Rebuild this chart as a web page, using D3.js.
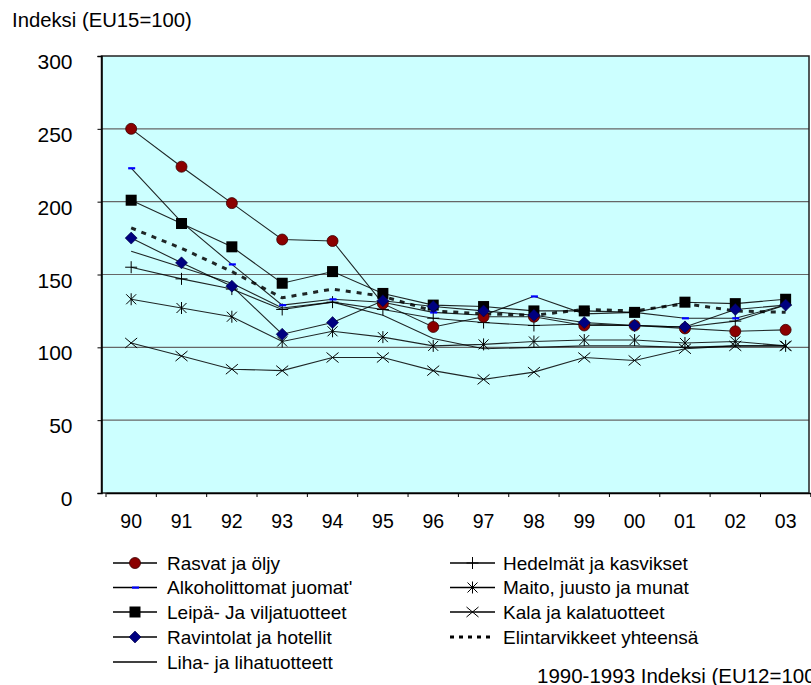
<!DOCTYPE html>
<html><head><meta charset="utf-8">
<script src="https://cdn.jsdelivr.net/npm/d3@7"></script>
<style>
html,body{margin:0;padding:0;background:#fff;}
svg{display:block;font-family:"Liberation Sans",Arial,sans-serif;}
</style></head>
<body><svg id="c" width="811" height="685"></svg>
<script>
const years = ["90","91","92","93","94","95","96","97","98","99","00","01","02","03"];
const yTicks = [0,50,100,150,200,250,300];
const rasvat      = [250,224,199,174,173,130,114,121,121,115,115,113,111,112];
const alkoholi    = [223,186,157,129,133,131,124,122,135,123,124,120,120,129];
const leipa       = [201,185,169,144,152,137,129,128,125,125,124,131,130,133];
const ravintolat  = [175,158,142,109,117,132,128,125,122,117,115,114,126,129];
const liha        = [166,155,144,127,131,122,106,99,100,101,101,100,101,101];
const hedelmat    = [155,147,140,126,131,126,120,117,115,116,115,114,118,129];
const maito       = [133,127,121,104,111,107,101,102,104,105,105,103,104,101];
const kala        = [103,94,85,84,93,93,84,78,83,93,91,99,101,101];
const yhteensa    = [182,168,152,134,140,135,125,123,122,126,125,130,125,124];
const seriesNames = ["Rasvat ja öljy","Alkoholittomat juomat'","Leipä- Ja viljatuotteet","Ravintolat ja hotellit","Liha- ja lihatuotteett","Hedelmät ja kasvikset","Maito, juusto ja munat","Kala ja kalatuotteet","Elintarvikkeet yhteensä"];
const yTitle = "Indeksi (EU15=100)";
const footnote = "1990-1993 Indeksi (EU12=100)";

const series = [
  {name:seriesNames[0], values:rasvat, marker:"circle"},
  {name:seriesNames[1], values:alkoholi, marker:"bdash"},
  {name:seriesNames[2], values:leipa, marker:"square"},
  {name:seriesNames[3], values:ravintolat, marker:"diamond"},
  {name:seriesNames[4], values:liha, marker:"none"},
  {name:seriesNames[5], values:hedelmat, marker:"plus"},
  {name:seriesNames[6], values:maito, marker:"star"},
  {name:seriesNames[7], values:kala, marker:"x"},
  {name:seriesNames[8], values:yhteensa, marker:"none", dashed:true}
];

const svg = d3.select("#c");
const L = 101.5, R = 809, T = 56, B = 493;
const x = d3.scaleBand().domain(years).range([106, 810.8]);
const y = d3.scaleLinear().domain([0,300]).range([B, T]);
const cx = d => x(d) + x.bandwidth()/2;

svg.append("rect").attr("x",L).attr("y",T).attr("width",R-L).attr("height",B-T)
  .attr("fill","#ccffff");
svg.append("g").selectAll("line").data(yTicks.filter(t=>t>0&&t<300)).join("line")
  .attr("x1",L).attr("x2",R).attr("y1",d=>y(d)).attr("y2",d=>y(d))
  .attr("stroke","#666").attr("stroke-width",1.2);
svg.append("rect").attr("x",L).attr("y",T).attr("width",R-L).attr("height",B-T)
  .attr("fill","none").attr("stroke","#222").attr("stroke-width",1.5);

const ya = svg.append("g").attr("transform",`translate(${L},0)`)
  .call(d3.axisLeft(y).tickValues(yTicks).tickSize(4).tickPadding(25));
ya.select(".domain").attr("stroke","#000").attr("stroke-width",1.5);
ya.selectAll("text").attr("font-size","21px").attr("fill","#000")
  .attr("font-family","Liberation Sans, Arial, sans-serif").attr("dy","0.6em");

const xa = svg.append("g").attr("transform",`translate(0,${B})`)
  .call(d3.axisBottom(x).tickSize(0).tickPadding(21));
xa.select(".domain").attr("stroke","#000").attr("stroke-width",1.5);
xa.selectAll("text").attr("font-size","19.5px").attr("fill","#000")
  .attr("font-family","Liberation Sans, Arial, sans-serif");
const bounds = years.map(d=>x(d)).concat([x(years[years.length-1])+x.bandwidth()]);
svg.append("g").selectAll("line").data(bounds).join("line")
  .attr("x1",d=>d).attr("x2",d=>d).attr("y1",B).attr("y2",B+4)
  .attr("stroke","#000").attr("stroke-width",1);

function drawMarker(g, type, px, py){
  if(type==="circle"){
    g.append("circle").attr("cx",px).attr("cy",py).attr("r",5.5)
      .attr("fill","#8b0000").attr("stroke","#3a0000").attr("stroke-width",0.8);
  } else if(type==="square"){
    g.append("rect").attr("x",px-5.5).attr("y",py-5.5).attr("width",11).attr("height",11)
      .attr("fill","#000");
  } else if(type==="diamond"){
    g.append("path").attr("d",`M${px},${py-6}L${px+6},${py}L${px},${py+6}L${px-6},${py}Z`)
      .attr("fill","#000080").attr("stroke","#000040").attr("stroke-width",0.6);
  } else if(type==="bdash"){
    g.append("rect").attr("x",px-3).attr("y",py-1).attr("width",7).attr("height",2.2)
      .attr("fill","#0000ff");
  } else if(type==="plus"){
    g.append("path").attr("d",`M${px-6},${py}H${px+6}M${px},${py-6}V${py+6}`)
      .attr("stroke","#000").attr("stroke-width",1);
  } else if(type==="star"){
    g.append("path").attr("d",`M${px-5},${py-5}L${px+5},${py+5}M${px+5},${py-5}L${px-5},${py+5}M${px},${py-6}V${py+6}`)
      .attr("stroke","#000").attr("stroke-width",1);
  } else if(type==="x"){
    g.append("path").attr("d",`M${px-6},${py-5}L${px+6},${py+5}M${px+6},${py-5}L${px-6},${py+5}`)
      .attr("stroke","#000").attr("stroke-width",1);
  }
}

const line = d3.line().x((v,i)=>cx(years[i])).y(v=>y(v));
const drawOrder = [7,6,4,5,8,1,0,2,3];
drawOrder.forEach(k=>{
  const s = series[k];
  const g = svg.append("g");
  g.append("path").attr("d",line(s.values)).attr("fill","none")
    .attr("stroke","#000").attr("stroke-opacity",0.85)
    .attr("stroke-width",s.dashed?3:1.1)
    .attr("stroke-dasharray",s.dashed?"5,6":null);
  if(s.marker!=="none") s.values.forEach((v,i)=>drawMarker(g,s.marker,cx(years[i]),y(v)));
});

svg.append("text").attr("x",12).attr("y",27).attr("font-size","20.3px").text(yTitle);

const legCols = [{x1:113,x2:157,tx:167},{x1:450,x2:495,tx:503}];
const legRows = [563,587.5,612,637,662];
series.forEach((s,i)=>{
  const col = i<5?0:1, row = i<5?i:i-5;
  const c = legCols[col], ly = legRows[row];
  const g = svg.append("g");
  g.append("line").attr("x1",c.x1).attr("x2",c.x2).attr("y1",ly).attr("y2",ly)
    .attr("stroke","#000").attr("stroke-width",s.dashed?3:1.3)
    .attr("stroke-dasharray",s.dashed?"4,5":null);
  if(s.marker!=="none") drawMarker(g,s.marker,(c.x1+c.x2)/2,ly);
  g.append("text").attr("x",c.tx).attr("y",ly+6.5).attr("font-size","19px").text(s.name);
});
svg.append("text").attr("x",537).attr("y",683).attr("font-size","20.5px").text(footnote);
</script></body></html>
